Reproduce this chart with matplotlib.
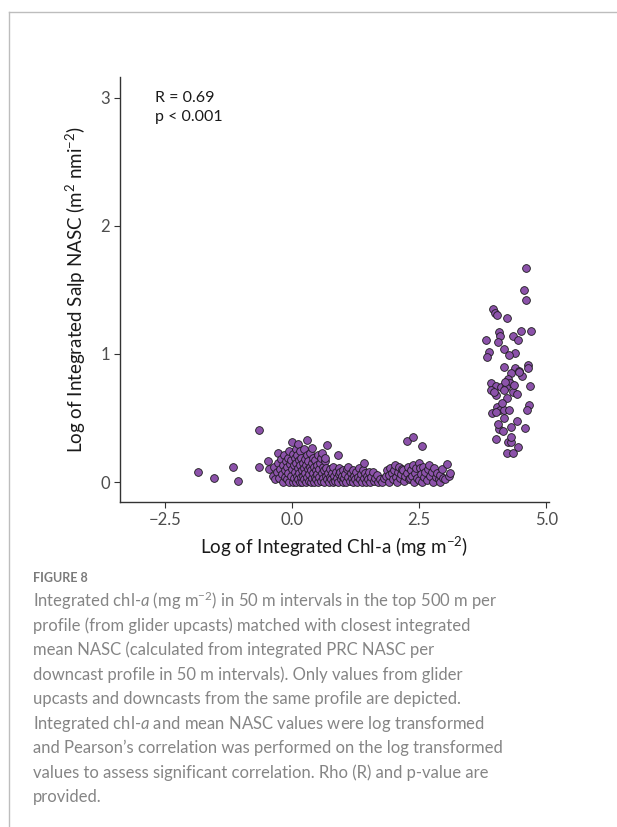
import matplotlib
matplotlib.use('Agg')
import matplotlib.pyplot as plt
from matplotlib.lines import Line2D

plt.rcParams['font.family'] = ['Lato', 'DejaVu Sans']
plt.rcParams['mathtext.fontset'] = 'custom'
plt.rcParams['mathtext.rm'] = 'Lato'
plt.rcParams['mathtext.it'] = 'Lato:italic'

# Data (log chl-a, log salp NASC)
low_x = [-1.85, -1.53, -1.16, -1.07, -0.65, -0.64, -0.48, -0.46,
         -0.38, -0.35, -0.33, -0.30, -0.28, -0.27, -0.25, -0.23, -0.21, -0.20, -0.18, -0.17,
         -0.15, -0.14, -0.13, -0.12, -0.10, -0.09, -0.08, -0.07, -0.05, -0.05, -0.04,
         -0.02, -0.01, 0.00, 0.00, 0.01, 0.02, 0.03, 0.04, 0.05, 0.06, 0.07, 0.08, 0.08, 0.09,
         0.10, 0.11, 0.11, 0.12, 0.13, 0.14, 0.15, 0.16, 0.16, 0.17, 0.18, 0.19, 0.20, 0.21,
         0.22, 0.23, 0.23, 0.24, 0.25, 0.26, 0.27, 0.28, 0.29, 0.29, 0.30,
         0.31, 0.32, 0.33, 0.34, 0.35, 0.36, 0.37, 0.38, 0.39, 0.39, 0.40, 0.41, 0.42, 0.43,
         0.44, 0.45, 0.46, 0.47, 0.48, 0.49, 0.50, 0.51, 0.52, 0.53, 0.54, 0.55, 0.56, 0.57,
         0.58, 0.59, 0.60, 0.61, 0.62, 0.63, 0.64, 0.65, 0.66, 0.67, 0.68, 0.69, 0.70,
         0.72, 0.74, 0.75, 0.77, 0.78, 0.80, 0.81, 0.83, 0.85, 0.86, 0.88, 0.90, 0.90, 0.92,
         0.93, 0.95, 0.96, 0.98, 1.00, 1.01, 1.03, 1.05, 1.07, 1.08, 1.10, 1.11, 1.13, 1.15,
         1.17, 1.19, 1.20, 1.22, 1.24, 1.26, 1.28, 1.30, 1.31, 1.33, 1.35, 1.37, 1.39, 1.41,
         1.42, 1.44, 1.46, 1.48, 1.50, 1.52, 1.54, 1.56, 1.59, 1.61, 1.63, 1.67, 1.69, 1.72,
         1.77, 1.80,
         1.84, 1.87, 1.90, 1.90, 1.93, 1.96, 1.98, 2.00, 2.02, 2.04, 2.06, 2.08, 2.11, 2.13,
         2.15, 2.17, 2.19, 2.21, 2.23, 2.26, 2.26, 2.28, 2.30, 2.32, 2.34, 2.36, 2.38, 2.38,
         2.40, 2.42, 2.44, 2.46, 2.49, 2.49, 2.52, 2.53, 2.55, 2.56, 2.58, 2.60, 2.62, 2.65,
         2.67, 2.70, 2.72, 2.75, 2.77, 2.80, 2.82, 2.85, 2.88, 2.91, 2.91, 2.94, 2.97, 3.01,
         3.05, 3.08, 3.11]
low_y = [0.08, 0.029, 0.115, 0.01, 0.115, 0.405, 0.166, 0.099,
         0.05, 0.12, 0.02, 0.08, 0.224, 0.15, 0.03, 0.10, 0.18, 0.06, 0.00, 0.13,
         0.21, 0.04, 0.09, 0.16, 0.02, 0.12, 0.19, 0.07, 0.244, 0.00, 0.14,
         0.05, 0.17, 0.314, 0.10, 0.00, 0.22, 0.13, 0.03, 0.19, 0.08, 0.26, 0.00, 0.15, 0.05,
         0.21, 0.296, 0.11, 0.02, 0.17, 0.07, 0.24, 0.00, 0.13, 0.04, 0.19, 0.09, 0.00, 0.15,
         0.05, 0.255, 0.11, 0.02, 0.18, 0.07, 0.13, 0.00, 0.327, 0.21, 0.04,
         0.10, 0.16, 0.01, 0.06, 0.12, 0.224, 0.00, 0.09, 0.262, 0.15, 0.03, 0.19, 0.07, 0.12,
         0.00, 0.04, 0.17, 0.09, 0.02, 0.13, 0.06, 0.21, 0.00, 0.10, 0.04, 0.15, 0.185, 0.01,
         0.07, 0.224, 0.12, 0.03, 0.09, 0.00, 0.16, 0.185, 0.05, 0.11, 0.02, 0.288, 0.07,
         0.00, 0.04, 0.10, 0.02, 0.07, 0.00, 0.12, 0.05, 0.01, 0.08, 0.03, 0.21, 0.00, 0.06,
         0.11, 0.08, 0.02, 0.05, 0.00, 0.09, 0.03, 0.06, 0.00, 0.10, 0.04, 0.119, 0.01, 0.07,
         0.03, 0.00, 0.09, 0.05, 0.02, 0.08, 0.00, 0.04, 0.107, 0.02, 0.06, 0.00, 0.09, 0.146,
         0.03, 0.07, 0.00, 0.05, 0.02, 0.08, 0.00, 0.04, 0.08, 0.01, 0.03, 0.055, 0.00, 0.02,
         0.002, 0.03,
         0.05, 0.09, 0.002, 0.055, 0.11, 0.07, 0.02, 0.094, 0.13, 0.04, 0.002, 0.08, 0.119, 0.029,
         0.06, 0.10, 0.094, 0.01, 0.05, 0.068, 0.322, 0.12, 0.02, 0.029, 0.09, 0.05, 0.133, 0.348,
         0.00, 0.07, 0.11, 0.03, 0.15, 0.016, 0.107, 0.06, 0.281, 0.00, 0.12, 0.04, 0.08, 0.016,
         0.10, 0.133, 0.05, 0.08, 0.00, 0.11, 0.041, 0.07, 0.02, 0.055, 0.002, 0.10, 0.03, 0.021,
         0.14, 0.05, 0.068]

high_x = [4.59, 4.56, 4.59, 3.94, 3.99, 4.03, 4.23, 4.49, 4.69, 4.07, 4.08, 4.34, 4.45,
          3.82, 4.05, 4.17, 4.39, 4.26, 3.87, 3.83, 4.16, 4.39, 4.63, 4.64, 4.46, 4.31,
          4.51, 4.24, 3.92, 4.28, 4.00, 4.11, 4.20, 3.91, 4.16, 4.34, 4.43, 4.00, 4.22,
          4.67, 4.03, 4.09, 4.17, 4.27, 3.93, 4.01, 4.65, 4.62, 4.16, 4.42, 4.07, 4.14,
          4.31, 4.58, 4.01, 4.25, 4.30, 4.30, 4.45, 4.22, 4.35, 3.97, 4.12, 4.47, 4.19,
          4.05, 4.37]
high_y = [1.666, 1.50, 1.42, 1.346, 1.32, 1.30, 1.28, 1.177, 1.18, 1.17, 1.14, 1.14, 1.11,
          1.11, 1.09, 1.034, 1.003, 0.99, 1.016, 0.977, 0.894, 0.891, 0.912, 0.891, 0.868, 0.847,
          0.828, 0.803, 0.774, 0.774, 0.748, 0.738, 0.743, 0.717, 0.717, 0.701, 0.686, 0.676, 0.652,
          0.748, 0.587, 0.561, 0.561, 0.561, 0.535, 0.546, 0.600, 0.561, 0.496, 0.478, 0.41, 0.397,
          0.426, 0.418, 0.333, 0.314, 0.314, 0.353, 0.270, 0.224, 0.224, 0.70, 0.62, 0.86, 0.78,
          0.45, 0.76]

x_ticks = [-2.5, 0.0, 2.5, 5.0]
y_ticks = [0, 1, 2, 3]
r_label = 'R = 0.69'
p_label = 'p < 0.001'

caption = ['Integrated chl-$\\mathit{a}$ (mg m$^{-2}$) in 50 m intervals in the top 500 m per',
           'profile (from glider upcasts) matched with closest integrated',
           'mean NASC (calculated from integrated PRC NASC per',
           'downcast profile in 50 m intervals). Only values from glider',
           'upcasts and downcasts from the same profile are depicted.',
           'Integrated chl-$\\mathit{a}$ and mean NASC values were log transformed',
           'and Pearson\u2019s correlation was performed on the log transformed',
           'values to assess significant correlation. Rho (R) and p-value are',
           'provided.']

W, H = 617, 827
fig = plt.figure(figsize=(W/100, H/100), dpi=100)
ax = fig.add_axes([120/W, 1-502/H, (549-120)/W, (502-77)/H])

pts_x = low_x + high_x
pts_y = low_y + high_y
ax.scatter(pts_x, pts_y, s=31, c='#8C52AA', edgecolors='#1a1a1a', linewidths=0.6, zorder=3)

ax.set_xlim(-3.38, 5.05)
ax.set_ylim(-0.156, 3.16)
ax.set_xticks(x_ticks)
ax.set_xticklabels(['\u22122.5', '0.0', '2.5', '5.0'])
ax.set_yticks(y_ticks)
for s in ['top', 'right']:
    ax.spines[s].set_visible(False)
for s in ['left', 'bottom']:
    ax.spines[s].set_color('#333333')
    ax.spines[s].set_linewidth(1.0)
ax.tick_params(length=4, width=0.8, color='#333333', labelcolor='#4d4d4d', labelsize=12, pad=3)

ax.set_xlabel('Log of Integrated Chl-a (mg m$^{-2}$)', fontsize=13.5, color='#1a1a1a', labelpad=5)
ax.set_ylabel('Log of Integrated Salp NASC (m$^{2}$ nmi$^{-2}$)', fontsize=13.5, color='#1a1a1a', labelpad=9)

ax.text(-2.69, 3.0, r_label, fontsize=11.5, color='#1a1a1a', va='center', ha='left')
ax.text(-2.69, 2.85, p_label, fontsize=11.5, color='#1a1a1a', va='center', ha='left')

# page frame lines
fig.add_artist(Line2D([9/W, 1], [1-12/H, 1-12/H], color='#bdbdbd', lw=1.0))
fig.add_artist(Line2D([9/W, 9/W], [0, 1-12/H], color='#bdbdbd', lw=1.0))

fig.text(33/W, 1-578/H, 'FIGURE 8', fontsize=9, color='#7a7a7a', va='center', ha='left', weight='bold')
for i, line in enumerate(caption):
    fig.text(33/W, 1-(601+24.5*i)/H, line, fontsize=12, color='#858585', va='center', ha='left')

fig.savefig('out.png', dpi=100)
